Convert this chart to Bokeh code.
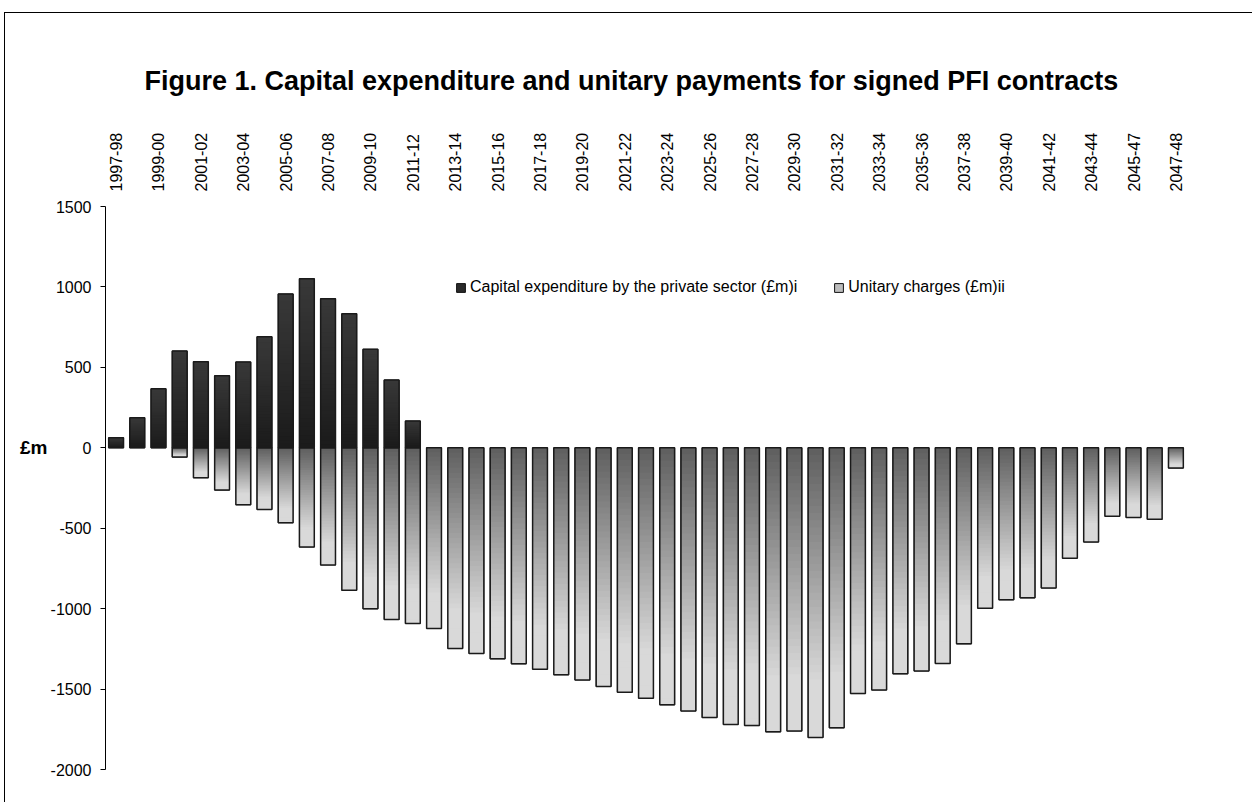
import math
from bokeh.plotting import figure
from bokeh.models import ColumnDataSource, Legend, LegendItem, Range1d, FixedTicker, LinearAxis
from bokeh.embed import file_html
from bokeh.resources import INLINE

categories = [
    "1997-98", "1998-99", "1999-00", "2000-01", "2001-02", "2002-03", "2003-04", "2004-05",
    "2005-06", "2006-07", "2007-08", "2008-09", "2009-10", "2010-11", "2011-12", "2012-13",
    "2013-14", "2014-15", "2015-16", "2016-17", "2017-18", "2018-19", "2019-20", "2020-21",
    "2021-22", "2022-23", "2023-24", "2024-25", "2025-26", "2026-27", "2027-28", "2028-29",
    "2029-30", "2030-31", "2031-32", "2032-33", "2033-34", "2034-35", "2035-36", "2036-37",
    "2037-38", "2038-39", "2039-40", "2040-41", "2041-42", "2042-43", "2043-44", "2044-45",
    "2045-47", "2046-47", "2047-48",
]

capital = [
    62, 187, 367, 601, 535, 448, 533, 690, 956, 1051, 927, 833, 612, 421, 166,
    0, 0, 0, 0, 0, 0, 0, 0, 0, 0, 0, 0, 0, 0, 0, 0, 0, 0, 0, 0, 0, 0, 0, 0, 0,
    0, 0, 0, 0, 0, 0, 0, 0, 0, 0, 0,
]

unitary = [
    0, 0, 0, -58, -186, -263, -354, -383, -466, -617, -729, -885, -1001, -1067, -1092,
    -1123, -1248, -1279, -1312, -1343, -1376, -1411, -1444, -1484, -1519, -1557, -1598,
    -1637, -1677, -1720, -1727, -1766, -1760, -1801, -1741, -1528, -1505, -1405, -1387,
    -1341, -1219, -997, -945, -933, -871, -686, -585, -425, -433, -445, -126,
]

series_names = ["Capital expenditure by the private sector (£m)i", "Unitary charges (£m)ii"]
y_ticks = [-2000, -1500, -1000, -500, 0, 500, 1000, 1500]
y_unit = "£m"

FONT = "Liberation Sans"
pos = list(range(len(categories)))  # category slots on the axis


def hex2rgb(h):
    h = h.lstrip("#")
    return tuple(int(h[i:i + 2], 16) for i in (0, 2, 4))


def lerp(c1, c2, t):
    a, b = hex2rgb(c1), hex2rgb(c2)
    t = max(0.0, min(1.0, t))
    return "#%02x%02x%02x" % tuple(int(round(a[i] + (b[i] - a[i]) * t)) for i in range(3))


N = 40
cap_src = dict(x=[], top=[], bottom=[], color=[])
uni_src = dict(x=[], top=[], bottom=[], color=[])
for k in range(N):
    t0 = k / N
    for xi, v in zip(pos, capital):
        if v:
            cap_src["x"].append(xi)
            cap_src["top"].append(v * (1 - t0))
            cap_src["bottom"].append(0)
            cap_src["color"].append(lerp("#383838", "#1a1a1a", t0))
    for xi, v in zip(pos, unitary):
        if v:
            uni_src["x"].append(xi)
            uni_src["top"].append(v * t0)
            uni_src["bottom"].append(v)
            uni_src["color"].append(lerp("#606060", "#d9d9d9", t0 / 0.8))

W, H = 1248, 790
p = figure(
    width=W, height=H,
    x_range=Range1d(-0.5, len(categories) - 0.5),
    y_range=Range1d(-2000, 1500),
    x_axis_location="above",
    output_backend="svg", toolbar_location=None,
    min_border_left=100, min_border_right=67, min_border_top=193, min_border_bottom=34,
)
p.styles = {"border-top": "1px solid #000000", "border-left": "1px solid #000000",
            "margin-left": "4px", "margin-top": "12px"}

cap_x = [x for x, v in zip(pos, capital) if v]
cap_v = [v for v in capital if v]
uni_x = [x for x, v in zip(pos, unitary) if v]
uni_v = [v for v in unitary if v]

# base bars (also used as legend swatches)
r_uni = p.vbar(x=uni_x, top=0, bottom=uni_v, width=0.7, fill_color="#bdbdbd",
               line_color="#111111", line_width=1)
r_cap = p.vbar(x=cap_x, top=cap_v, bottom=0, width=0.7, fill_color="#2a2a2a",
               line_color="#111111", line_width=1)

# gradient shading
p.vbar(x="x", top="top", bottom="bottom", width=0.7, fill_color="color", line_color=None,
       source=ColumnDataSource(uni_src))
p.vbar(x="x", top="top", bottom="bottom", width=0.7, fill_color="color", line_color=None,
       source=ColumnDataSource(cap_src))

# outlines
p.vbar(x=uni_x, top=0, bottom=uni_v, width=0.7, fill_color=None,
       line_color="#1a1a1a", line_width=1.5)
p.vbar(x=cap_x, top=cap_v, bottom=0, width=0.7, fill_color=None,
       line_color="#1a1a1a", line_width=1.5)

legend = Legend(
    items=[LegendItem(label=series_names[0], renderers=[r_cap]),
           LegendItem(label=series_names[1], renderers=[r_uni])],
    orientation="horizontal", location=(350, 473),
    glyph_width=11, glyph_height=11, label_standoff=4, spacing=36,
    padding=0, margin=0, border_line_color=None, background_fill_alpha=0,
    label_text_font=FONT, label_text_font_size="16px", label_text_color="#000000",
    label_height=18,
)
p.add_layout(legend, "center")

# title
p.title.text = "Figure 1. Capital expenditure and unitary payments for signed PFI contracts"
p.title.text_font = FONT
p.title.text_font_size = "27px"
p.title.text_font_style = "bold"
p.title.align = "left"
p.title.offset = 39
p.title.standoff = 68
p.title.text_color = "#000000"

# x axis (above) - every other category labelled
xa = p.xaxis[0]
xa.ticker = FixedTicker(ticks=pos[::2])
xa.major_label_overrides = {i: categories[i] for i in pos}
xa.major_label_orientation = math.pi / 2
xa.axis_line_color = None
xa.major_tick_line_color = None
xa.minor_tick_line_color = None
xa.major_tick_out = 0
xa.major_tick_in = 0
xa.major_label_standoff = 15
xa.major_label_text_font = FONT
xa.major_label_text_font_size = "16px"
xa.major_label_text_color = "#000000"

# y axis
ya = p.yaxis[0]
ya.ticker = FixedTicker(ticks=y_ticks)
ya.major_label_overrides = {v: str(v) for v in y_ticks}
ya.axis_line_color = "#000000"
ya.major_tick_line_color = "#000000"
ya.major_tick_out = 5
ya.major_tick_in = 0
ya.minor_tick_line_color = None
ya.major_label_standoff = 9
ya.major_label_text_font = FONT
ya.major_label_text_font_size = "16px"
ya.major_label_text_color = "#000000"

# unit label placed at the zero line, outside the value axis
ua = LinearAxis(ticker=FixedTicker(ticks=[0]), major_label_overrides={0: y_unit})
ua.axis_line_color = None
ua.major_tick_line_color = None
ua.minor_tick_line_color = None
ua.major_tick_out = 0
ua.major_tick_in = 0
ua.major_label_standoff = 0
ua.major_label_text_font = FONT
ua.major_label_text_font_size = "19px"
ua.major_label_text_font_style = "bold"
ua.major_label_text_color = "#000000"
p.add_layout(ua, "left")

p.xgrid.grid_line_color = None
p.ygrid.grid_line_color = None
p.outline_line_color = None
p.background_fill_color = "#ffffff"
p.border_fill_color = "#ffffff"

open("out.html", "w").write(file_html(p, INLINE))
